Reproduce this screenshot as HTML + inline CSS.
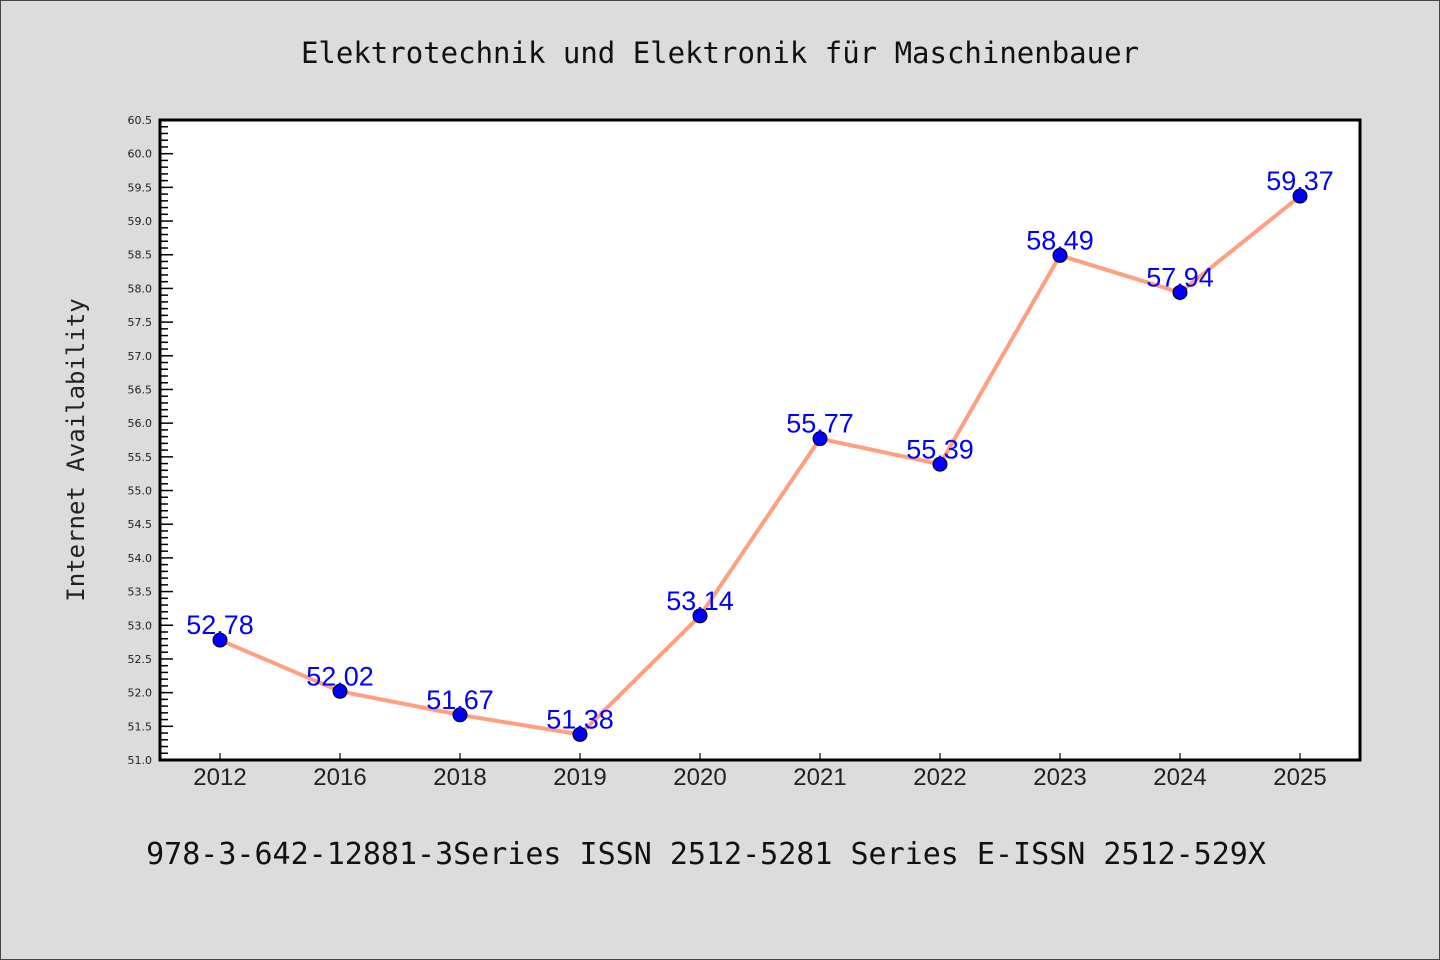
<!DOCTYPE html>
<html><head><meta charset="utf-8"><style>
html,body{margin:0;padding:0;background:#dcdcdc}
svg{display:block}
</style></head><body>
<svg id="chart" width="1440" height="960" xmlns="http://www.w3.org/2000/svg">
<rect x="0.5" y="0.5" width="1439" height="959" fill="#dcdcdc" stroke="#444" stroke-width="1"/>
<text x="720" y="63" text-anchor="middle" font-family="'DejaVu Sans Mono','Liberation Mono',monospace" font-size="29" fill="#111">Elektrotechnik und Elektronik für Maschinenbauer</text>
<rect x="160" y="120" width="1200" height="640" fill="#fff"/>
<g id="yaxis"></g>
<g id="xaxis"></g>
<g id="series"></g>
<rect x="160" y="120" width="1200" height="640" fill="none" stroke="#000" stroke-width="3"/>
<text transform="translate(84,450) rotate(-90)" text-anchor="middle" font-family="'DejaVu Sans Mono','Liberation Mono',monospace" font-size="24" fill="#222">Internet Availability</text>
<text x="706" y="864" text-anchor="middle" font-family="'DejaVu Sans Mono','Liberation Mono',monospace" font-size="30" fill="#111">978-3-642-12881-3Series ISSN 2512-5281 Series E-ISSN 2512-529X</text>
</svg>
<script>
const categories = ["2012","2016","2018","2019","2020","2021","2022","2023","2024","2025"];
const values = [52.78,52.02,51.67,51.38,53.14,55.77,55.39,58.49,57.94,59.37];
const yTicks = ["51.0","51.5","52.0","52.5","53.0","53.5","54.0","54.5","55.0","55.5","56.0","56.5","57.0","57.5","58.0","58.5","59.0","59.5","60.0","60.5"];
const NS="http://www.w3.org/2000/svg";
const L=160,R=1360,T=120,B=760,yMin=51.0,yMax=60.5;
const y=v=>B-(v-yMin)/(yMax-yMin)*(B-T);
const x=i=>L+60+i*((R-L-120)/(categories.length-1));
function mk(tag,attrs,parent){const e=document.createElementNS(NS,tag);for(const k in attrs)e.setAttribute(k,attrs[k]);parent.appendChild(e);return e;}
const ya=document.getElementById('yaxis'),xa=document.getElementById('xaxis'),sg=document.getElementById('series');
for(let v=yMin;v<=yMax+1e-9;v+=0.1){const yy=y(v);const major=Math.abs(v*2-Math.round(v*2))<1e-6;
 const t=mk('line',{x1:L,x2:L+(major?13:8),y1:yy,y2:yy,stroke:'#000','stroke-width':1.5},ya);
 
 }
yTicks.forEach(s=>{const yy=y(parseFloat(s));const t=mk('text',{x:152,y:yy+4,'text-anchor':'end','font-family':"'DejaVu Sans','Liberation Sans',sans-serif",'font-size':11,fill:'#222'},ya);t.textContent=s;
 
 });
categories.forEach((c,i)=>{const xx=x(i);
 const tk=mk('line',{x1:xx,x2:xx,y1:B,y2:B-7,stroke:'#000','stroke-width':1.2},xa);
 
 
 const t=mk('text',{x:xx,y:785,'text-anchor':'middle','font-family':"'Liberation Sans',sans-serif",'font-size':24,fill:'#222'},xa);t.textContent=c;
 
 });
const pl=mk('polyline',{points:values.map((v,i)=>x(i)+','+y(v)).join(' '),fill:'none',stroke:'#ff9f7f','stroke-width':4,'stroke-linejoin':'round'},sg);


values.forEach((v,i)=>{
 const c=mk('circle',{cx:x(i),cy:y(v),r:7,fill:'#0000ff',stroke:'#000','stroke-width':1},sg);
 
 
 const t=mk('text',{x:x(i),y:y(v)-6,'text-anchor':'middle','font-family':"'Liberation Sans',sans-serif",'font-size':27,fill:'#0000ff'},sg);t.textContent=v.toFixed(2);
 
 });
</script>
</body></html>
